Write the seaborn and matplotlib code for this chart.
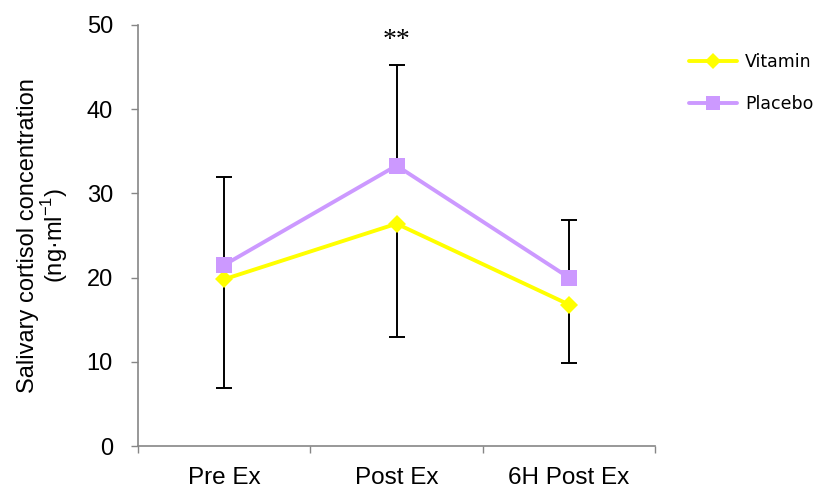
import matplotlib
matplotlib.use("Agg")
import matplotlib.pyplot as plt
import seaborn as sns
import pandas as pd
import numpy as np
from matplotlib.lines import Line2D

categories = ["Pre Ex", "Post Ex", "6H Post Ex"]
vitamin = [19.8, 26.4, 16.8]
placebo = [21.5, 33.3, 20.0]
vitamin_err_down = [12.9, 13.4, 6.9]
placebo_err_up = [10.4, 11.9, 6.9]
yticks = [0, 10, 20, 30, 40, 50]

sns.set_theme(style="white")
plt.rcParams['font.family'] = ['Liberation Sans', 'DejaVu Sans']
plt.rcParams['text.color'] = 'black'
plt.rcParams['xtick.color'] = 'black'
plt.rcParams['ytick.color'] = 'black'
plt.rcParams['axes.labelcolor'] = 'black'

df = pd.DataFrame({
    "time": categories * 2,
    "value": vitamin + placebo,
    "group": ["Vitamin"] * 3 + ["Placebo"] * 3,
})

fig = plt.figure(figsize=(8.21, 4.93), dpi=100)
ax = fig.add_axes([0.168, 0.0953, 0.630, 0.854])

colors = {"Vitamin": "#FFFF00", "Placebo": "#CC99FF"}
pos = np.arange(len(categories))

# error bars
ax.errorbar(pos, placebo, yerr=[np.zeros(3), placebo_err_up], fmt="none",
            ecolor="black", elinewidth=1.4, capsize=5.5, capthick=1.4, zorder=1)
ax.errorbar(pos, vitamin, yerr=[vitamin_err_down, np.zeros(3)], fmt="none",
            ecolor="black", elinewidth=1.4, capsize=5.5, capthick=1.4, zorder=1)

sns.lineplot(data=df, x="time", y="value", hue="group", style="group",
             markers={"Vitamin": "D", "Placebo": "s"}, dashes=False,
             palette=colors, linewidth=2.8, markersize=11.5,
             markeredgewidth=0, ax=ax, legend=False, zorder=3, sort=False)
for ln in ax.get_lines():
    if ln.get_marker() == "D":
        ln.set_markersize(9.5)

ax.set_xlim(-0.5, 2.5)
ax.set_ylim(0, 50)
ax.set_yticks(yticks)
ax.set_yticklabels([str(t) for t in yticks], fontsize=17)
ax.set_xticks(pos)
ax.set_xticklabels(categories, fontsize=17.5)
ax.set_xticks([-0.5, 0.5, 1.5, 2.5], minor=True)
ax.tick_params(axis="x", which="major", bottom=False, length=0, pad=15)
ax.tick_params(axis="x", which="minor", bottom=True, length=5, width=1,
               color="#868686", direction="out")
ax.tick_params(axis="y", which="major", left=True, length=5, width=1,
               color="#868686", labelcolor="black", direction="out", pad=13)
ax.set_xlabel("")
ax.set_ylabel("Salivary cortisol concentration\n(ng·ml$^{\\mathregular{-1}}$)",
              fontsize=17, labelpad=12, linespacing=1.0)

for s in ["top", "right"]:
    ax.spines[s].set_visible(False)
for s in ["left", "bottom"]:
    ax.spines[s].set_color("#868686")
    ax.spines[s].set_linewidth(1.2)
ax.spines["bottom"].set_bounds(-0.5, 2.5)

ax.text(1, 48.2, "**", ha="center", va="center", fontsize=20, family="Liberation Serif")

handles = [
    Line2D([], [], color="#FFFF00", marker="D", markersize=8, linewidth=2.8, markeredgewidth=0),
    Line2D([], [], color="#CC99FF", marker="s", markersize=10, linewidth=2.8, markeredgewidth=0),
]
fig.legend(handles, ["Vitamin", "Placebo"], loc="upper left",
           bbox_to_anchor=(0.82, 0.925), frameon=False,
           prop={"family": "DejaVu Sans", "size": 12.5}, labelspacing=1.4,
           handlelength=2.8, handletextpad=0.45)

fig.savefig("out.png", dpi=100)
